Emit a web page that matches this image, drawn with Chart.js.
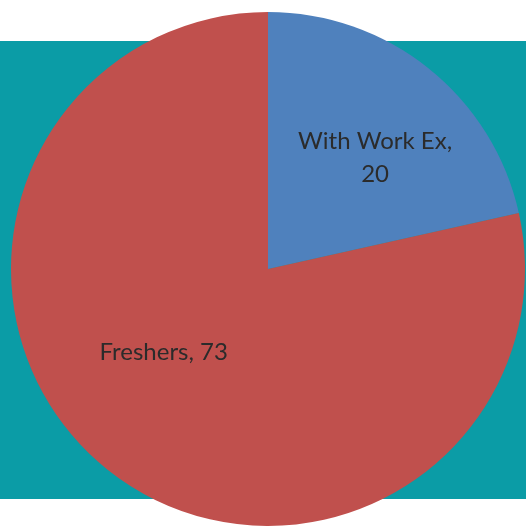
<!DOCTYPE html>
<html>
<head>
<meta charset="utf-8">
<script src="https://cdn.jsdelivr.net/npm/chart.js@4"></script>
<style>
  html, body { margin: 0; padding: 0; background: #ffffff; }
  #wrap { position: relative; width: 526px; height: 527px; }
  #band { position: absolute; left: 0; top: 41px; width: 526px; height: 458px; background: #0B9CA6; }
  #chart { position: absolute; left: 0; top: 0; }
</style>
</head>
<body>
<div id="wrap">
  <div id="band"></div>
  <canvas id="chart" width="526" height="527"></canvas>
</div>
<script>
    const categories = ['With Work Ex', 'Freshers'];
    const counts = [20, 73];
    const sliceColors = ['#4F81BD', '#C0504D'];

    // label placement: fraction of radius and angle nudge (radians) per slice
    const labelSpots = [
        { r: 0.603, turn: 0.087, lines: 2 },
        { r: 0.52, turn: 0.22, lines: 1 }
    ];

    const sliceLabels = {
        id: 'sliceLabels',
        afterDatasetsDraw(chart) {
            const ctx = chart.ctx;
            const meta = chart.getDatasetMeta(0);
            ctx.save();
            ctx.fillStyle = '#2b2b2b';
            ctx.font = '24px Lato, "Open Sans", sans-serif';
            ctx.textAlign = 'center';
            ctx.textBaseline = 'middle';
            meta.data.forEach((arc, i) => {
                const p = arc.getProps(['x', 'y', 'startAngle', 'endAngle', 'outerRadius'], true);
                const spot = labelSpots[i];
                const mid = (p.startAngle + p.endAngle) / 2 + spot.turn;
                const cx = p.x + Math.cos(mid) * p.outerRadius * spot.r;
                const cy = p.y + Math.sin(mid) * p.outerRadius * spot.r;
                if (spot.lines === 2) {
                    ctx.fillText(categories[i] + ',', cx, cy - 16);
                    ctx.fillText(String(counts[i]), cx, cy + 17);
                } else {
                    ctx.fillText(categories[i] + ', ' + counts[i], cx, cy);
                }
            });
            ctx.restore();
        }
    };

    const configPie = {
        type: 'pie',
    data: {
        labels: categories,
    datasets: [{
        data: counts,
    backgroundColor: sliceColors,
    borderWidth: 0
      }]
    },
    options: {
        responsive: false,
    animation: false,
    layout: {
        padding: { left: 11, right: 1, top: 12, bottom: 1 }
        },
    plugins: {
        legend: { display: false },
    tooltip: { enabled: false }
        }
      },
    plugins: [sliceLabels]
    };

    new Chart(document.getElementById('chart'), configPie);
</script>
</body>
</html>
